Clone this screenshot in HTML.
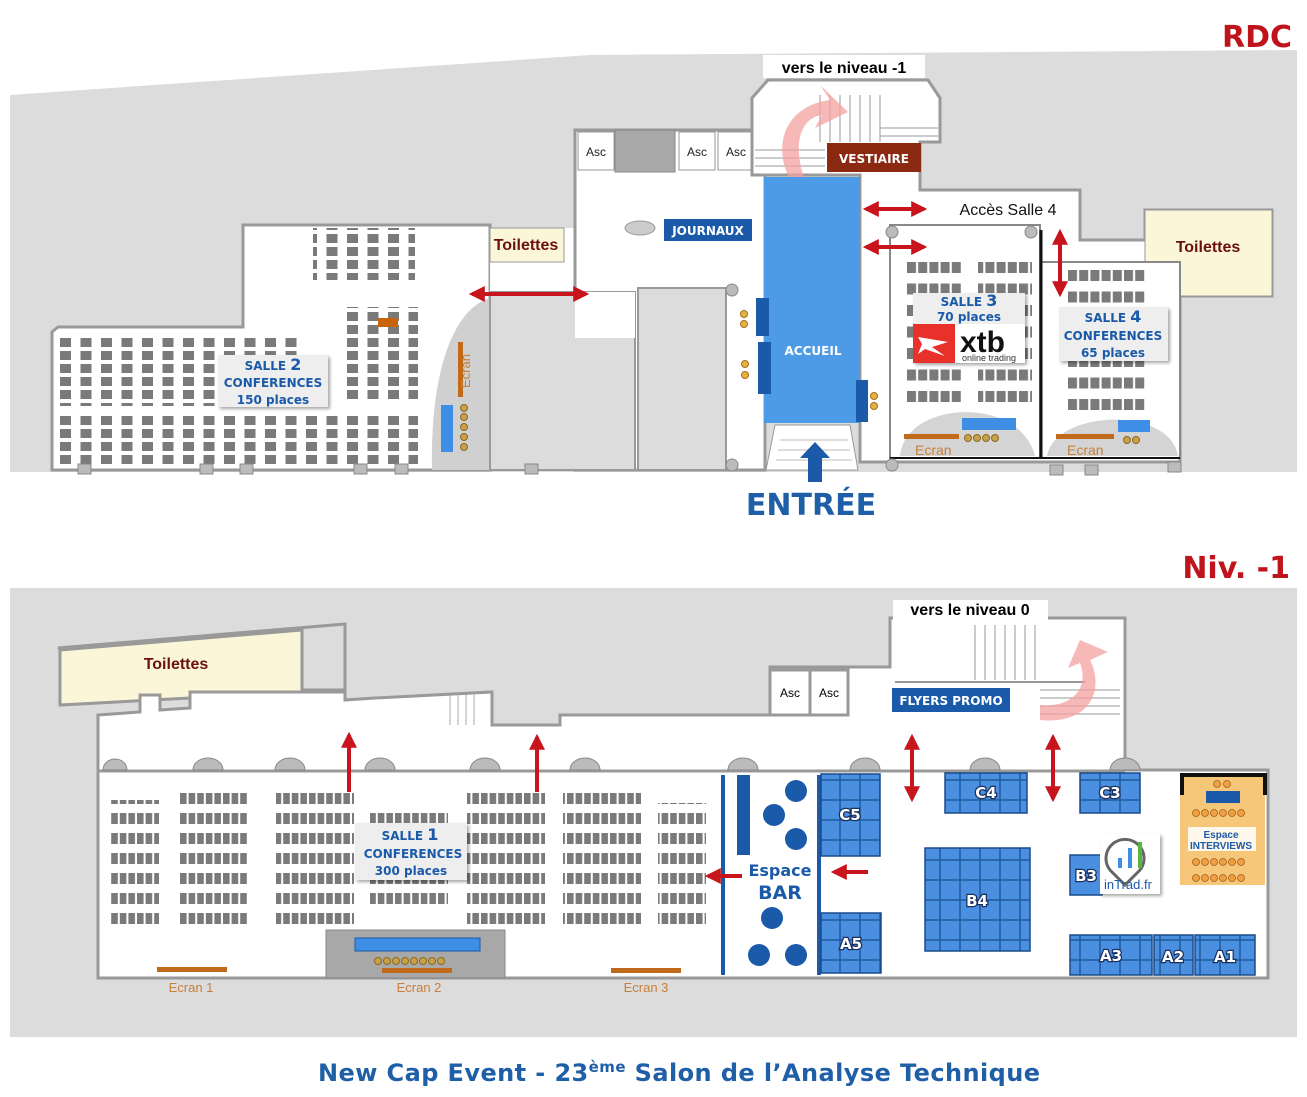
<!DOCTYPE html>
<html><head><meta charset="utf-8"><style>
html,body{margin:0;padding:0;background:#fff;}
svg{display:block;font-family:"Liberation Sans",sans-serif;}
.b{font-weight:bold;}
.dv{font-family:"DejaVu Sans","Liberation Sans",sans-serif;}
</style></head><body>
<svg width="1307" height="1097" viewBox="0 0 1307 1097" xmlns="http://www.w3.org/2000/svg">
<defs>
<pattern id="s2" x="60" y="338" width="20.5" height="13" patternUnits="userSpaceOnUse"><rect x="0" y="0" width="11" height="9" fill="#7a7a7a"/></pattern>
<pattern id="s3" x="907" y="262" width="11.2" height="21.5" patternUnits="userSpaceOnUse"><rect x="0" y="0" width="9" height="11" fill="#7a7a7a"/></pattern>
<pattern id="s4" x="1068" y="270" width="11.2" height="21.5" patternUnits="userSpaceOnUse"><rect x="0" y="0" width="9" height="11" fill="#7a7a7a"/></pattern>
<pattern id="s1" x="180" y="793" width="8.6" height="20" patternUnits="userSpaceOnUse"><rect x="0" y="0" width="6.6" height="11" fill="#7a7a7a"/></pattern>
<pattern id="bt" width="20" height="20" patternUnits="userSpaceOnUse"><rect width="20" height="20" fill="#4a8fe0" stroke="#1f5a9e" stroke-width="1.5"/></pattern>
<marker id="ah" viewBox="0 0 10 10" refX="8" refY="5" markerWidth="4" markerHeight="4" orient="auto-start-reverse"><path d="M0,0L10,5L0,10z" fill="#c8141c"/></marker>
<filter id="sh"><feDropShadow dx="2" dy="2" stdDeviation="1.5" flood-color="#000" flood-opacity="0.35"/></filter>
</defs>

<polygon points="10,95 590,55 1297,50 1297,472 10,472" fill="#dcdcdc"/>
<polygon points="52,332 58,327 243,327 243,225 490,225 490,470 52,470" fill="#fff" stroke="#999" stroke-width="3"/>
<path d="M432,470 C430,380 450,310 490,298 L490,470z" fill="#d0d0d0"/>
<rect x="490" y="228" width="90" height="64" fill="#fff"/>
<rect x="490" y="228" width="74" height="34" fill="#fcf6d8" stroke="#999"/>
<rect x="575" y="130" width="190" height="340" fill="#fff" stroke="#999" stroke-width="3"/>
<rect x="490" y="292" width="145" height="178" fill="#dcdcdc" stroke="#999" stroke-width="2"/>
<rect x="638" y="288" width="88" height="182" fill="#dcdcdc" stroke="#999" stroke-width="2"/>
<rect x="575" y="292" width="60" height="46" fill="#fff"/>
<rect x="578" y="132" width="36" height="38" fill="#fff" stroke="#999"/>
<rect x="615" y="130" width="60" height="42" fill="#a8a8a8" stroke="#888"/>
<rect x="679" y="132" width="36" height="38" fill="#fff" stroke="#999"/>
<rect x="718" y="132" width="36" height="38" fill="#fff" stroke="#999"/>
<g font-size="12" fill="#222" text-anchor="middle"><text x="596" y="156">Asc</text><text x="697" y="156">Asc</text><text x="736" y="156">Asc</text></g>
<polygon points="752,98 768,80 928,80 940,98 940,142 920,142 920,190 1080,190 1080,240 1145,240 1145,210 1272,210 1272,296 1180,296 1180,462 860,462 860,175 752,175" fill="#fff" stroke="#999" stroke-width="3"/>
<g stroke="#999" stroke-width="1">
<line x1="820" y1="95" x2="820" y2="142"/><line x1="830" y1="95" x2="830" y2="142"/><line x1="840" y1="95" x2="840" y2="142"/><line x1="850" y1="95" x2="850" y2="142"/><line x1="860" y1="95" x2="860" y2="142"/><line x1="870" y1="95" x2="870" y2="142"/><line x1="880" y1="95" x2="880" y2="142"/>
<line x1="755" y1="150" x2="825" y2="150"/><line x1="755" y1="158" x2="825" y2="158"/><line x1="755" y1="166" x2="825" y2="166"/>
<line x1="880" y1="128" x2="938" y2="128"/><line x1="880" y1="136" x2="938" y2="136"/></g>
<path d="M790,180 C770,140 790,105 830,100 L820,85 L848,112 L815,128 L822,115 C800,118 792,145 805,180z" fill="#f4a0a0" opacity="0.75"/>
<rect x="1145" y="210" width="127" height="86" fill="#fcf6d8" stroke="#999"/>
<rect x="890" y="225" width="150" height="233" fill="#fff" stroke="#888" stroke-width="2"/>
<rect x="1040" y="262" width="140" height="196" fill="#fff" stroke="#888" stroke-width="2"/>
<line x1="1041" y1="230" x2="1041" y2="458" stroke="#111" stroke-width="3"/>
<line x1="890" y1="458" x2="1180" y2="458" stroke="#111" stroke-width="2"/>
<path d="M900,456 C905,400 1020,395 1035,456z" fill="#d4d4d4"/>
<path d="M1047,456 C1055,410 1170,405 1178,456z" fill="#d4d4d4"/>
<rect x="907" y="262" width="54" height="140" fill="url(#s3)"/>
<rect x="978" y="262" width="54" height="140" fill="url(#s3)"/>
<rect x="1068" y="270" width="77" height="145" fill="url(#s4)"/>
<rect x="962" y="418" width="54" height="12" fill="#3f8ee6"/>
<rect x="904" y="434" width="55" height="5" fill="#c06a1c"/>
<g fill="#c8a04a" stroke="#8a6a20"><circle cx="968" cy="438" r="3.5"/><circle cx="977" cy="438" r="3.5"/><circle cx="986" cy="438" r="3.5"/><circle cx="995" cy="438" r="3.5"/><circle cx="1127" cy="440" r="3.5"/><circle cx="1136" cy="440" r="3.5"/></g>
<rect x="1118" y="420" width="32" height="12" fill="#3f8ee6"/>
<rect x="1056" y="434" width="58" height="5" fill="#c06a1c"/>
<text x="915" y="455" font-size="14" fill="#c8803a">Ecran</text>
<text x="1067" y="455" font-size="14" fill="#c8803a">Ecran</text>
<rect x="60" y="338" width="245" height="68" fill="url(#s2)"/>
<rect x="60" y="412" width="358" height="52" fill="url(#s2)"/>
<rect x="313" y="228" width="102" height="52" fill="url(#s2)"/>
<rect x="340" y="307" width="78" height="95" fill="url(#s2)"/>
<rect x="378" y="318" width="20" height="9" fill="#c8640c"/>
<rect x="458" y="342" width="5" height="55" fill="#c06a1c"/>
<text transform="translate(470,388) rotate(-90)" font-size="13" fill="#c8803a">Ecran</text>
<rect x="441" y="405" width="12" height="47" fill="#3f8ee6"/>
<g fill="#c8a04a" stroke="#8a6a20"><circle cx="464" cy="408" r="3.5"/><circle cx="464" cy="417" r="3.5"/><circle cx="464" cy="427" r="3.5"/><circle cx="464" cy="437" r="3.5"/><circle cx="464" cy="447" r="3.5"/></g>
<rect x="764" y="177" width="96" height="246" fill="#4d9be6"/>
<rect x="756" y="298" width="13" height="38" fill="#1a5aa8"/>
<rect x="758" y="342" width="13" height="52" fill="#1a5aa8"/>
<rect x="856" y="380" width="12" height="42" fill="#1a5aa8"/>
<g fill="#e8b040" stroke="#a07020"><circle cx="744" cy="314" r="3.5"/><circle cx="744" cy="324" r="3.5"/><circle cx="745" cy="364" r="3.5"/><circle cx="745" cy="375" r="3.5"/><circle cx="874" cy="396" r="3.5"/><circle cx="874" cy="406" r="3.5"/></g>
<text x="813" y="355" font-size="12" fill="#fff" class="b dv" text-anchor="middle">ACCUEIL</text>
<ellipse cx="640" cy="228" rx="15" ry="7" fill="#ccc" stroke="#999"/>
<path d="M775,425 L850,425 L858,470 L766,470z" fill="#fff" stroke="#999"/>
<g stroke="#bbb"><line x1="780" y1="440" x2="848" y2="440"/><line x1="778" y1="450" x2="850" y2="450"/><line x1="776" y1="460" x2="852" y2="460"/></g>
<path d="M808,482 L808,458 L800,458 L815,442 L830,458 L822,458 L822,482z" fill="#1a5aa8"/>
<text x="811" y="515" font-size="30" fill="#1f5fa8" class="b dv" text-anchor="middle">ENTRÉE</text>
<g fill="#bbb" stroke="#888"><circle cx="732" cy="290" r="6"/><circle cx="732" cy="465" r="6"/><circle cx="892" cy="232" r="6"/><circle cx="1031" cy="232" r="6"/><circle cx="892" cy="465" r="6"/></g>
<g fill="#bbb" stroke="#888"><rect x="78" y="464" width="13" height="10"/><rect x="200" y="464" width="13" height="10"/><rect x="240" y="464" width="13" height="10"/><rect x="354" y="464" width="13" height="10"/><rect x="395" y="464" width="13" height="10"/><rect x="525" y="464" width="13" height="10"/><rect x="1050" y="465" width="13" height="10"/><rect x="1085" y="465" width="13" height="10"/><rect x="1168" y="462" width="13" height="10"/></g>
<rect x="763" y="55" width="162" height="23" fill="#fff"/>
<text x="844" y="73" font-size="16" class="b" text-anchor="middle">vers le niveau -1</text>
<rect x="827" y="143" width="94" height="29" fill="#8b2a10"/>
<text x="874" y="163" font-size="12" class="b dv" fill="#fff" text-anchor="middle">VESTIAIRE</text>
<rect x="664" y="219" width="88" height="22" fill="#1a5aa8"/>
<text x="708" y="235" font-size="12" class="b dv" fill="#fff" text-anchor="middle">JOURNAUX</text>
<text x="526" y="250" font-size="16" class="b" fill="#6b1010" text-anchor="middle">Toilettes</text>
<text x="1208" y="252" font-size="16" class="b" fill="#6b1010" text-anchor="middle">Toilettes</text>
<text x="1008" y="215" font-size="16" fill="#111" text-anchor="middle">Accès Salle 4</text>
<g filter="url(#sh)">
<rect x="218" y="355" width="110" height="52" fill="#eee"/>
<rect x="913" y="293" width="112" height="70" fill="#eee"/>
<rect x="1059" y="307" width="109" height="54" fill="#eee"/>
</g>
<g fill="#1a5aa8" class="b dv" text-anchor="middle">
<text x="273" y="370" font-size="12">SALLE <tspan font-size="16">2</tspan></text>
<text x="273" y="387" font-size="12">CONFERENCES</text>
<text x="273" y="404" font-size="12">150 places</text>
<text x="969" y="306" font-size="12">SALLE <tspan font-size="16">3</tspan></text>
<text x="969" y="321" font-size="12">70 places</text>
<text x="1113" y="322" font-size="12">SALLE <tspan font-size="16">4</tspan></text>
<text x="1113" y="340" font-size="12">CONFERENCES</text>
<text x="1113" y="357" font-size="12">65 places</text>
</g>
<rect x="913" y="324" width="112" height="39" fill="#fff"/>
<rect x="913" y="324" width="42" height="39" fill="#e8312a"/>
<path d="M918,337 L948,342 L932,347 L945,356 L925,349 L918,354 L922,344z" fill="#fff"/>
<text x="960" y="352" font-size="30" class="b" fill="#111">xtb</text>
<text x="962" y="361" font-size="9" fill="#333">online trading</text>
<g stroke="#c8141c" stroke-width="4" marker-start="url(#ah)" marker-end="url(#ah)">
<line x1="472" y1="294" x2="586" y2="294"/>
<line x1="866" y1="209" x2="924" y2="209"/>
<line x1="866" y1="247" x2="924" y2="247"/>
<line x1="1060" y1="232" x2="1060" y2="294"/>
</g>
<text x="1292" y="47" font-size="30" class="b dv" fill="#c0141c" text-anchor="end">RDC</text>

<rect x="10" y="588" width="1287" height="449" fill="#dcdcdc"/>
<text x="1290" y="578" font-size="30" class="b dv" fill="#c0141c" text-anchor="end">Niv. -1</text>
<polygon points="58,648 345,624 345,690 300,690" fill="#dcdcdc" stroke="#999" stroke-width="3"/>
<polygon points="60,650 302,630 302,692 60,705" fill="#fcf6d8" stroke="#999" stroke-width="3"/>
<text x="176" y="669" font-size="16" class="b" fill="#6b1010" text-anchor="middle">Toilettes</text>
<polygon points="98,715 140,712 140,695 160,695 160,710 190,708 190,692 345,692 345,700 375,698 492,692 492,725 560,725 560,715 770,715 770,667 890,667 890,618 1125,618 1125,770 1268,770 1268,978 98,978" fill="#fff" stroke="#999" stroke-width="3"/>
<g stroke="#aaa"><line x1="450" y1="695" x2="450" y2="725"/><line x1="458" y1="695" x2="458" y2="725"/><line x1="466" y1="695" x2="466" y2="725"/><line x1="474" y1="695" x2="474" y2="725"/></g>
<line x1="98" y1="771" x2="1125" y2="771" stroke="#999" stroke-width="3"/>
<g fill="#bbb" stroke="#888">
<path d="M103,770 a12,11 0 0 1 24,0z"/><path d="M193,770 a15,12 0 0 1 30,0z"/><path d="M275,770 a15,12 0 0 1 30,0z"/><path d="M365,770 a15,12 0 0 1 30,0z"/><path d="M470,770 a15,12 0 0 1 30,0z"/><path d="M570,770 a15,12 0 0 1 30,0z"/>
<path d="M728,770 a15,12 0 0 1 30,0z"/><path d="M850,770 a15,12 0 0 1 30,0z"/><path d="M970,770 a15,12 0 0 1 30,0z"/><path d="M1110,770 a15,12 0 0 1 30,0z"/>
</g>
<rect x="770" y="670" width="40" height="45" fill="#fff" stroke="#999" stroke-width="3"/>
<rect x="810" y="670" width="38" height="45" fill="#fff" stroke="#999" stroke-width="3"/>
<text x="790" y="697" font-size="12" text-anchor="middle">Asc</text>
<text x="829" y="697" font-size="12" text-anchor="middle">Asc</text>
<g stroke="#999" stroke-width="1">
<line x1="975" y1="625" x2="975" y2="680"/><line x1="985" y1="625" x2="985" y2="680"/><line x1="995" y1="625" x2="995" y2="680"/><line x1="1005" y1="625" x2="1005" y2="680"/><line x1="1015" y1="625" x2="1015" y2="680"/><line x1="1025" y1="625" x2="1025" y2="680"/><line x1="1035" y1="625" x2="1035" y2="680"/>
<line x1="1040" y1="690" x2="1120" y2="690"/><line x1="1040" y1="698" x2="1120" y2="698"/><line x1="1040" y1="706" x2="1120" y2="706"/><line x1="1040" y1="714" x2="1120" y2="714"/></g>
<line x1="895" y1="682" x2="1085" y2="682" stroke="#999" stroke-width="2"/>
<path d="M1040,720 C1090,725 1105,690 1090,660 L1108,652 L1080,640 L1068,668 L1080,663 C1090,690 1070,708 1040,705z" fill="#f4a0a0" opacity="0.75"/>
<rect x="893" y="600" width="155" height="22" fill="#fff"/>
<text x="970" y="615" font-size="16" class="b" text-anchor="middle">vers le niveau 0</text>
<rect x="892" y="688" width="118" height="24" fill="#1a5aa8"/>
<text x="951" y="705" font-size="12" class="b dv" fill="#fff" text-anchor="middle">FLYERS PROMO</text>
<rect x="180" y="793" width="68" height="140" fill="url(#s1)"/>
<rect x="276" y="793" width="78" height="140" fill="url(#s1)"/>
<rect x="370" y="813" width="78" height="100" fill="url(#s1)"/>
<rect x="467" y="793" width="78" height="140" fill="url(#s1)"/>
<rect x="563" y="793" width="78" height="140" fill="url(#s1)"/>
<rect x="111" y="800" width="48" height="125" fill="url(#s1)"/>
<rect x="658" y="803" width="48" height="125" fill="url(#s1)"/>
<rect x="326" y="930" width="179" height="48" fill="#a8a8a8" stroke="#888"/>
<rect x="355" y="938" width="125" height="13" fill="#3f8ee6" stroke="#1a5aa8"/>
<g fill="#c8a04a" stroke="#8a6a20"><circle cx="378" cy="961" r="3.5"/><circle cx="387" cy="961" r="3.5"/><circle cx="396" cy="961" r="3.5"/><circle cx="405" cy="961" r="3.5"/><circle cx="414" cy="961" r="3.5"/><circle cx="423" cy="961" r="3.5"/><circle cx="432" cy="961" r="3.5"/><circle cx="441" cy="961" r="3.5"/></g>
<rect x="382" y="968" width="70" height="5" fill="#c06a1c"/>
<rect x="157" y="967" width="70" height="5" fill="#c06a1c"/>
<rect x="611" y="968" width="70" height="5" fill="#c06a1c"/>
<g font-size="13" fill="#c8803a" text-anchor="middle"><text x="191" y="992">Ecran 1</text><text x="419" y="992">Ecran 2</text><text x="646" y="992">Ecran 3</text></g>
<rect x="355" y="823" width="112" height="57" fill="#eee" filter="url(#sh)"/>
<g fill="#1a5aa8" class="b dv" text-anchor="middle">
<text x="410" y="840" font-size="12">SALLE <tspan font-size="16">1</tspan></text>
<text x="413" y="858" font-size="12">CONFERENCES</text>
<text x="411" y="875" font-size="12">300 places</text>
</g>
<rect x="721" y="775" width="4" height="200" fill="#1a5aa8"/>
<rect x="737" y="775" width="13" height="80" fill="#1a5aa8"/>
<rect x="817" y="775" width="4" height="200" fill="#1a5aa8"/>
<g fill="#1a5aa8"><circle cx="796" cy="791" r="11"/><circle cx="774" cy="815" r="11"/><circle cx="796" cy="839" r="11"/><circle cx="772" cy="918" r="11"/><circle cx="759" cy="955" r="11"/><circle cx="796" cy="955" r="11"/></g>
<text x="780" y="876" font-size="16" class="b dv" fill="#1a5aa8" text-anchor="middle">Espace</text>
<text x="780" y="899" font-size="19" class="b dv" fill="#1a5aa8" text-anchor="middle">BAR</text>
<g stroke="#1a4a8a" stroke-width="1.5">
<rect x="821" y="774" width="59" height="82" fill="url(#bt)"/>
<rect x="821" y="913" width="60" height="60" fill="url(#bt)"/>
<rect x="945" y="773" width="82" height="40" fill="url(#bt)"/>
<rect x="1080" y="773" width="60" height="40" fill="url(#bt)"/>
<rect x="925" y="848" width="105" height="103" fill="url(#bt)"/>
<rect x="1070" y="855" width="32" height="40" fill="#4a8fe0"/>
<rect x="1070" y="935" width="82" height="40" fill="url(#bt)"/>
<rect x="1154" y="935" width="39" height="40" fill="url(#bt)"/>
<rect x="1195" y="935" width="60" height="40" fill="url(#bt)"/>
</g>
<g fill="#fff" stroke="#1a3060" stroke-width="2.5" paint-order="stroke" class="b dv" font-size="15" text-anchor="middle">
<text x="850" y="820">C5</text><text x="851" y="949">A5</text><text x="986" y="798">C4</text><text x="1110" y="798">C3</text><text x="977" y="906">B4</text><text x="1086" y="881">B3</text><text x="1111" y="961">A3</text><text x="1173" y="962">A2</text><text x="1225" y="962">A1</text>
</g>
<rect x="1100" y="834" width="60" height="60" fill="#fff" filter="url(#sh)"/>
<path d="M1110,870 a19,19 0 1 1 30,0 l-15,15z" fill="none" stroke="#666" stroke-width="3"/>
<g fill="#3f8ee6"><rect x="1118" y="858" width="4" height="10"/><rect x="1128" y="848" width="4" height="20"/></g>
<rect x="1138" y="842" width="4" height="26" fill="#5ab540"/>
<text x="1128" y="889" font-size="13" fill="#1a5aa8" text-anchor="middle">inTrad.fr</text>
<rect x="1180" y="775" width="85" height="110" fill="#f7c779"/>
<path d="M1182,795 L1182,775 L1265,775 L1265,795" fill="none" stroke="#111" stroke-width="4"/>
<rect x="1206" y="791" width="34" height="12" fill="#1a5aa8"/>
<g fill="#f0a040" stroke="#a06020" stroke-width="0.8">
<circle cx="1217" cy="784" r="3.5"/><circle cx="1227" cy="784" r="3.5"/>
<circle cx="1196" cy="813" r="3.5"/><circle cx="1205" cy="813" r="3.5"/><circle cx="1214" cy="813" r="3.5"/><circle cx="1223" cy="813" r="3.5"/><circle cx="1232" cy="813" r="3.5"/><circle cx="1241" cy="813" r="3.5"/>
<circle cx="1196" cy="862" r="3.5"/><circle cx="1205" cy="862" r="3.5"/><circle cx="1214" cy="862" r="3.5"/><circle cx="1223" cy="862" r="3.5"/><circle cx="1232" cy="862" r="3.5"/><circle cx="1241" cy="862" r="3.5"/>
<circle cx="1196" cy="878" r="3.5"/><circle cx="1205" cy="878" r="3.5"/><circle cx="1214" cy="878" r="3.5"/><circle cx="1223" cy="878" r="3.5"/><circle cx="1232" cy="878" r="3.5"/><circle cx="1241" cy="878" r="3.5"/>
</g>
<rect x="1188" y="827" width="68" height="24" fill="#fff" opacity="0.85"/>
<text x="1221" y="838" font-size="10" class="b" fill="#1a5aa8" text-anchor="middle">Espace</text>
<text x="1221" y="849" font-size="10" class="b" fill="#1a5aa8" text-anchor="middle">INTERVIEWS</text>
<g stroke="#c8141c" stroke-width="4" marker-end="url(#ah)">
<line x1="349" y1="792" x2="349" y2="735"/>
<line x1="537" y1="792" x2="537" y2="737"/>
<line x1="742" y1="876" x2="708" y2="876"/>
<line x1="868" y1="872" x2="834" y2="872"/>
</g>
<g stroke="#c8141c" stroke-width="4" marker-start="url(#ah)" marker-end="url(#ah)">
<line x1="912" y1="737" x2="912" y2="799"/>
<line x1="1053" y1="737" x2="1053" y2="799"/>
</g>
<text x="679" y="1081" font-size="24" class="b dv" fill="#1f5fa8" text-anchor="middle" textLength="722" lengthAdjust="spacing">New Cap Event - 23<tspan font-size="15" dy="-9">ème</tspan><tspan dy="9"> Salon de l’Analyse Technique</tspan></text>
</svg>
</body></html>
